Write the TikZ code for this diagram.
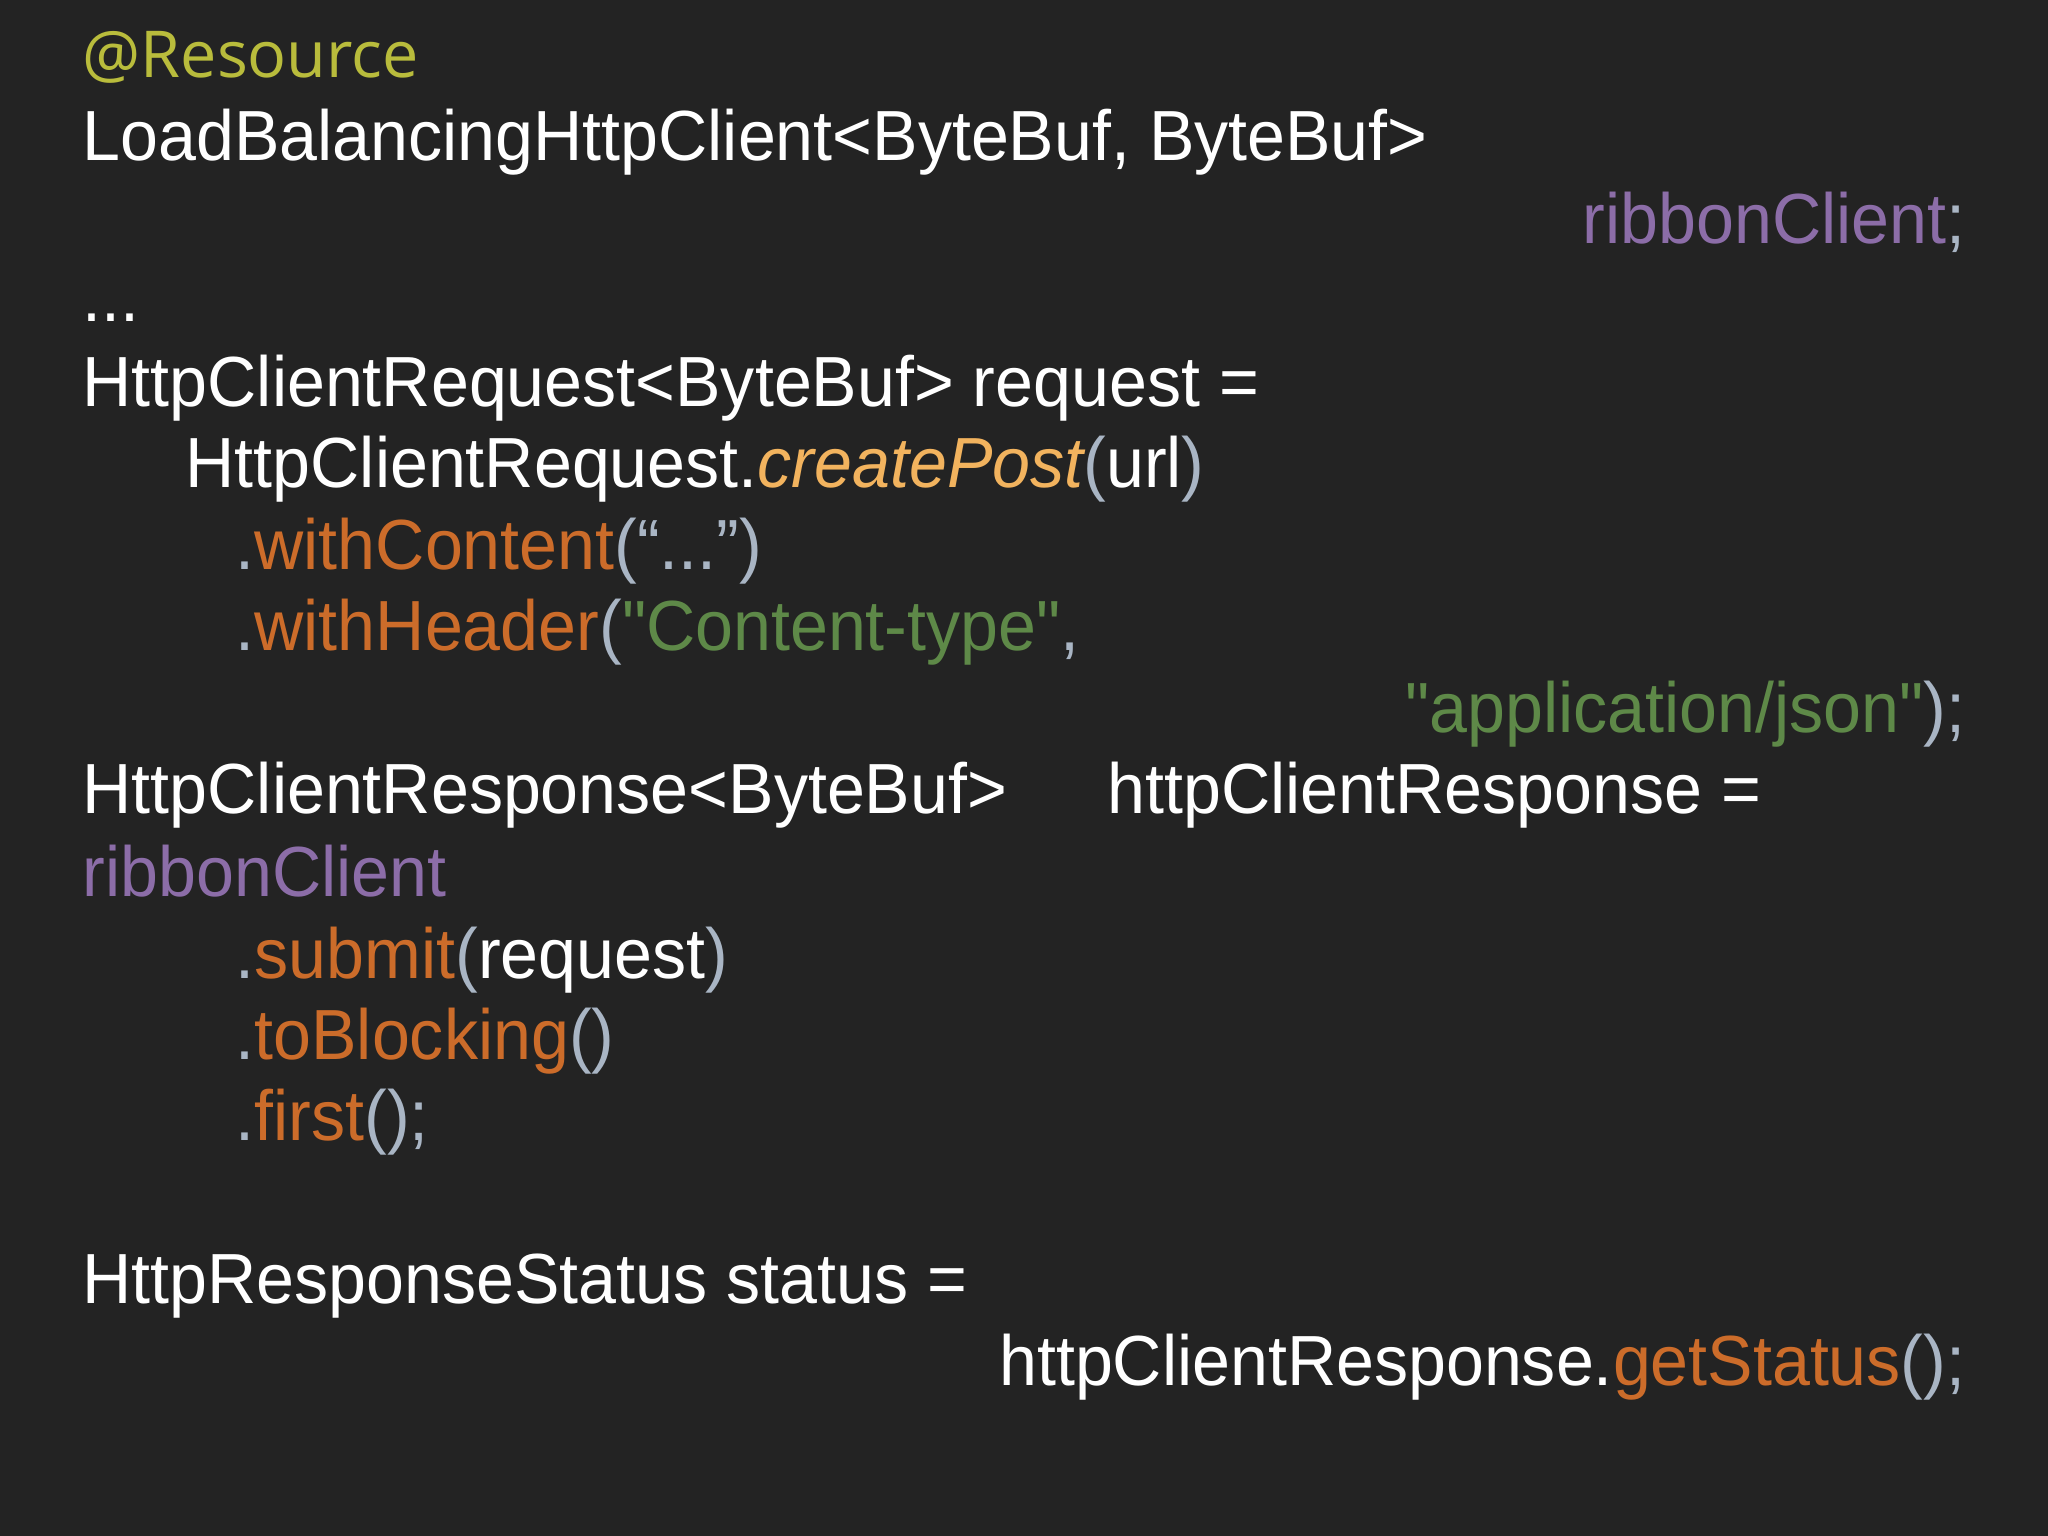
\documentclass[tikz,border=0pt]{standalone}
\usepackage{fontspec}
\setmainfont[FakeStretch=0.96]{Liberation Sans}
\newfontfamily\plainq[FakeStretch=0.96,Ligatures=TeXOff]{Liberation Sans}
\newfontfamily\annfont{Open Sans}
\definecolor{bg}{HTML}{232323}
\definecolor{ann}{HTML}{B9BC3C}
\definecolor{purp}{HTML}{8C6DA8}
\definecolor{orng}{HTML}{CC6C2A}
\definecolor{ital}{HTML}{F2B35E}
\definecolor{grn}{HTML}{5E8948}
\definecolor{par}{HTML}{A9B5C4}
\newcommand{\dq}{{\plainq\symbol{34}}}
\tikzset{code/.style={inner sep=0pt,text=white,font=\fontsize{20.2}{24}\selectfont},
 L/.style={code,anchor=base west}, R/.style={code,anchor=base east}}
\begin{document}
\begin{tikzpicture}
\fill[bg] (0,0) rectangle (20.48,15.36);
\useasboundingbox (0,0) rectangle (20.48,15.36);
\node[L,text=ann,font=\annfont\fontsize{18.4}{22}\selectfont] (a1) at (0.82,14.58) {@Resource};
\node[L] (a2) at (0.82,13.75) {LoadBalancingHttpClient<ByteBuf, ByteBuf>};
\node[R] (a3) at (19.66,12.92) {\textcolor{purp}{ribbonClient}\textcolor{par}{;}};
\node[L] (a4) at (0.82,12.14) {...};
\node[L] (a5) at (0.82,11.29) {HttpClientRequest<ByteBuf> request =};
\node[L] (a6) at (1.85,10.48) {HttpClientRequest.\textcolor{ital}{\itshape createPost}\textcolor{par}{(}url\textcolor{par}{)}};
\node[L] (a7) at (2.35,9.66) {\textcolor{par}{.}\textcolor{orng}{withContent}\textcolor{par}{(“...”)}};
\node[L] (a8) at (2.35,8.85) {\textcolor{par}{.}\textcolor{orng}{withHeader}\textcolor{par}{(}\textcolor{grn}{\dq Content-type\dq}\textcolor{par}{,}};
\node[R] (a9) at (19.66,8.03) {\textcolor{grn}{\dq application/json\dq}\textcolor{par}{);}};
\node[L] (a10) at (0.82,7.22) {HttpClientResponse<ByteBuf>};
\node[L] (a10b) at (11.07,7.22) {httpClientResponse =};
\node[L,text=purp] (a11) at (0.82,6.39) {ribbonClient};
\node[L] (a12) at (2.35,5.57) {\textcolor{par}{.}\textcolor{orng}{submit}\textcolor{par}{(}request\textcolor{par}{)}};
\node[L] (a13) at (2.35,4.76) {\textcolor{par}{.}\textcolor{orng}{toBlocking}\textcolor{par}{()}};
\node[L] (a14) at (2.35,3.95) {\textcolor{par}{.}\textcolor{orng}{first}\textcolor{par}{();}};
\node[L] (a15) at (0.82,2.32) {HttpResponseStatus status =};
\node[R] (a16) at (19.66,1.50) {httpClientResponse.\textcolor{orng}{getStatus}\textcolor{par}{();}};
\end{tikzpicture}
\end{document}
